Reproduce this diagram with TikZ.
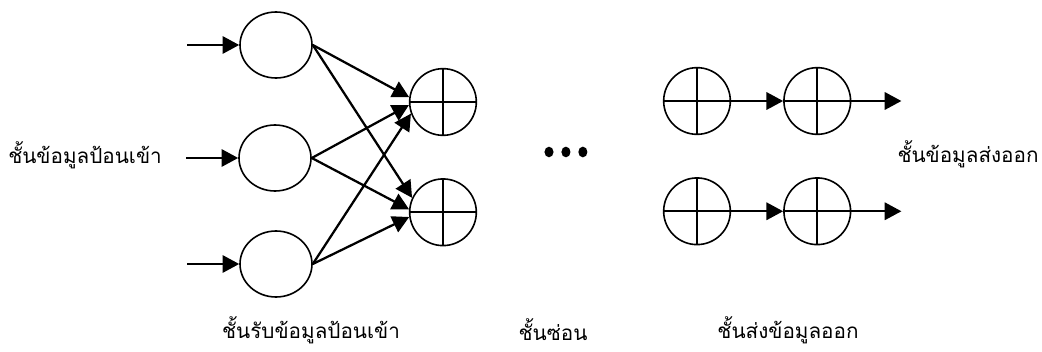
\documentclass[tikz,border=0pt]{standalone}
\usepackage{fontspec}
\newfontfamily\thaifont[Script=Thai]{Loma}
\usetikzlibrary{shapes.geometric, arrows.meta, positioning}
\tikzset{
	unit_in/.style={ellipse, draw=black, line width=1.2pt, minimum width=54pt, minimum height=49.5pt, inner sep=0pt},
	unit_sum/.style={circle, draw=black, line width=1.2pt, minimum size=50pt, inner sep=0pt,
		path picture={\draw[line width=1.2pt] (path picture bounding box.north) -- (path picture bounding box.south)
			(path picture bounding box.west) -- (path picture bounding box.east);}},
	conn_arrow/.style={-{Triangle[length=12.5pt, width=13pt]}, line width=1.7pt},
	layer_label/.style={font=\thaifont\fontsize{15.5}{18}\selectfont, inner sep=0pt},
	dot/.style={ellipse, fill=black, minimum width=6.8pt, minimum height=8pt, inner sep=0pt}
}
\begin{document}
\begin{tikzpicture}[x=0.75pt, y=-0.75pt]
	\useasboundingbox (0,0) rectangle (1042,352);
	% input layer
	\node[unit_in] (in1) at (276,45) {};
	\node[unit_in] (in2) at (275,158) {};
	\node[unit_in] (in3) at (276,264) {};
	\coordinate[left=39pt of in1] (src1);
	\coordinate[left=39pt of in2] (src2);
	\coordinate[left=39pt of in3] (src3);
	\draw[conn_arrow] (src1) -- (in1.west);
	\draw[conn_arrow] (src2) -- (in2.west);
	\draw[conn_arrow] (src3) -- (in3.west);
	% hidden layer
	\node[unit_sum] (h1) at (443,102) {};
	\node[unit_sum, below=31.5pt of h1] (h2) {};
	\draw[conn_arrow] (in1.east) -- (h1.172);
	\draw[conn_arrow] (in2.east) -- (h1.185);
	\draw[conn_arrow] (in3.east) -- (h1.200);
	\draw[conn_arrow] (in1.east) -- (h2.155);
	\draw[conn_arrow] (in2.east) -- (h2.175);
	\draw[conn_arrow] (in3.east) -- (h2.188);
	% dots
	\node[dot] (d1) at (549,152) {};
	\node[dot, right=5.5pt of d1] (d2) {};
	\node[dot, right=5.5pt of d2] (d3) {};
	% output layer
	\node[unit_sum] (o1a) at (697,101) {};
	\node[unit_sum, right=39pt of o1a] (o1b) {};
	\node[unit_sum, below=31.5pt of o1a] (o2a) {};
	\node[unit_sum, right=39pt of o2a] (o2b) {};
	\coordinate[right=37.5pt of o1b] (out1);
	\coordinate[right=37.5pt of o2b] (out2);
	\draw[conn_arrow] (o1a.east) -- (o1b.west);
	\draw[conn_arrow] (o2a.east) -- (o2b.west);
	\draw[conn_arrow] (o1b.east) -- (out1);
	\draw[conn_arrow] (o2b.east) -- (out2);
	% labels
	\node[layer_label] (lbl_in) at (85,155) {ชั้นข้อมูลป้อนเข้า};
	\node[layer_label] (lbl_out) at (968,154) {ชั้นข้อมูลส่งออก};
	\node[layer_label] (lbl_l1) at (311,330) {ชั้นรับข้อมูลป้อนเข้า};
	\node[layer_label] (lbl_l2) at (553,330) {ชั้นซ่อน};
	\node[layer_label] (lbl_l3) at (788,330) {ชั้นส่งข้อมูลออก};
\end{tikzpicture}
\end{document}
